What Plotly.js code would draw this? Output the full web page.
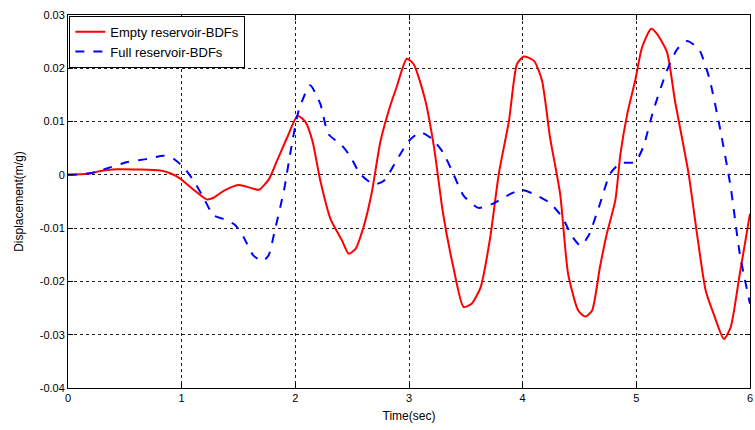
<!DOCTYPE html>
<html>
<head>
<meta charset="utf-8">
<script src="https://cdn.plot.ly/plotly-3.0.1.min.js"></script>
<style>html,body{margin:0;padding:0;background:#fff;}#chart{width:755px;height:430px;}</style>
</head>
<body>
<div id="chart"></div>
<script>
const emptyName = "Empty reservoir-BDFs";
const fullName = "Full reservoir-BDFs";

const emptyT = [0, 0.167, 0.31, 0.43, 0.64, 0.81, 0.90, 0.99, 1.105, 1.22, 1.28, 1.37, 1.50, 1.60, 1.68, 1.765, 1.84, 1.93, 2.02, 2.09, 2.15, 2.22, 2.31, 2.41, 2.47, 2.53, 2.60, 2.67, 2.75, 2.84, 2.89, 2.98, 3.04, 3.14, 3.22, 3.30, 3.39, 3.48, 3.55, 3.63, 3.715, 3.79, 3.88, 3.95, 4.01, 4.10, 4.17, 4.24, 4.33, 4.40, 4.49, 4.55, 4.61, 4.68, 4.74, 4.815, 4.86, 4.92, 4.99, 5.05, 5.13, 5.18, 5.27, 5.34, 5.46, 5.53, 5.61, 5.68, 5.77, 5.83, 5.91, 6.0];
const emptyY = [0, 0.0002, 0.0008, 0.00105, 0.001, 0.0008, 0.0003, -0.00075, -0.0028, -0.0046, -0.0043, -0.003, -0.0019, -0.0024, -0.0028, -0.0009, 0.0027, 0.0071, 0.0111, 0.0099, 0.0064, -0.0011, -0.0083, -0.0123, -0.0148, -0.0139, -0.0098, -0.0036, 0.0064, 0.0133, 0.0164, 0.0218, 0.0208, 0.0143, 0.0052, -0.0073, -0.0173, -0.0248, -0.0242, -0.0211, -0.0117, 0.0002, 0.0102, 0.0208, 0.0222, 0.0214, 0.0177, 0.0071, -0.0036, -0.0186, -0.0255, -0.0266, -0.0255, -0.0173, -0.0111, -0.0048, 0.0039, 0.0114, 0.0177, 0.0239, 0.0274, 0.0265, 0.0230, 0.0139, 0.0002, -0.0105, -0.0217, -0.0261, -0.0308, -0.0286, -0.0186, -0.0073];

const fullT = [0, 0.196, 0.37, 0.52, 0.695, 0.84, 0.93, 1.03, 1.105, 1.19, 1.28, 1.37, 1.47, 1.545, 1.63, 1.71, 1.765, 1.82, 1.90, 1.96, 2.03, 2.13, 2.22, 2.29, 2.41, 2.48, 2.57, 2.69, 2.78, 2.89, 3.0, 3.10, 3.20, 3.30, 3.39, 3.48, 3.61, 3.74, 3.89, 3.99, 4.10, 4.24, 4.35, 4.43, 4.51, 4.58, 4.67, 4.77, 4.86, 4.99, 5.06, 5.15, 5.27, 5.36, 5.445, 5.55, 5.64, 5.74, 5.83, 5.91, 6.0];
const fullY = [0, 0.0003, 0.0014, 0.0024, 0.003, 0.0036, 0.003, 0.0011, -0.0011, -0.0042, -0.0076, -0.0083, -0.0094, -0.0117, -0.0151, -0.0162, -0.0151, -0.0104, -0.0029, 0.0046, 0.0121, 0.0168, 0.0133, 0.0077, 0.0055, 0.0036, 0.0002, -0.0018, -0.0011, 0.0027, 0.0064, 0.008, 0.0068, 0.0042, 0.0002, -0.0039, -0.0062, -0.0054, -0.0036, -0.0028, -0.0036, -0.0053, -0.008, -0.0114, -0.0133, -0.0114, -0.0061, 0.0002, 0.0022, 0.0024, 0.0052, 0.0121, 0.0196, 0.0236, 0.0251, 0.0236, 0.0183, 0.0083, -0.0023, -0.0148, -0.0242];

const xTicks = [0, 1, 2, 3, 4, 5, 6];
const xTickText = ["0", "1", "2", "3", "4", "5", "6"];
const yTicks = [-0.04, -0.03, -0.02, -0.01, 0, 0.01, 0.02, 0.03];
const yTickText = ["-0.04", "-0.03", "-0.02", "-0.01", "0", "0.01", "0.02", "0.03"];

const font = "Liberation Sans, Arial, sans-serif";

const traces = [
  {x: emptyT, y: emptyY, name: emptyName, type: "scatter", mode: "lines",
   line: {color: "#ff0000", width: 2, shape: "spline", smoothing: 0.6}},
  {x: fullT, y: fullY, name: fullName, type: "scatter", mode: "lines",
   line: {color: "#0000ff", width: 2, dash: "dash", shape: "spline", smoothing: 0.6}}
];

const axisCommon = {
  showline: true, linecolor: "#000", linewidth: 1, mirror: "ticks",
  ticks: "inside", ticklen: 5, tickcolor: "#000",
  showgrid: true, gridcolor: "#222", griddash: "dot", gridwidth: 1,
  zeroline: false, tickfont: {family: font, size: 11, color: "#000"}
};

const layout = {
  width: 755, height: 430,
  margin: {l: 68, r: 5, t: 15, b: 42},
  paper_bgcolor: "#fff", plot_bgcolor: "#fff",
  showlegend: true,
  legend: {x: 0.002, y: 0.998, xanchor: "left", yanchor: "top",
    bgcolor: "#fff", bordercolor: "#000", borderwidth: 1,
    font: {family: font, size: 13, color: "#000"}, tracegroupgap: 0},
  xaxis: Object.assign({}, axisCommon, {range: [0, 6], tickvals: xTicks, ticktext: xTickText,
    title: {text: "Time(sec)", font: {family: font, size: 12, color: "#000"}, standoff: 8}}),
  yaxis: Object.assign({}, axisCommon, {range: [-0.04, 0.03], tickvals: yTicks, ticktext: yTickText,
    title: {text: "Displacement(m/g)", font: {family: font, size: 12, color: "#000"}, standoff: 13}})
};

Plotly.newPlot("chart", traces, layout, {displayModeBar: false, staticPlot: true});
</script>
</body>
</html>
